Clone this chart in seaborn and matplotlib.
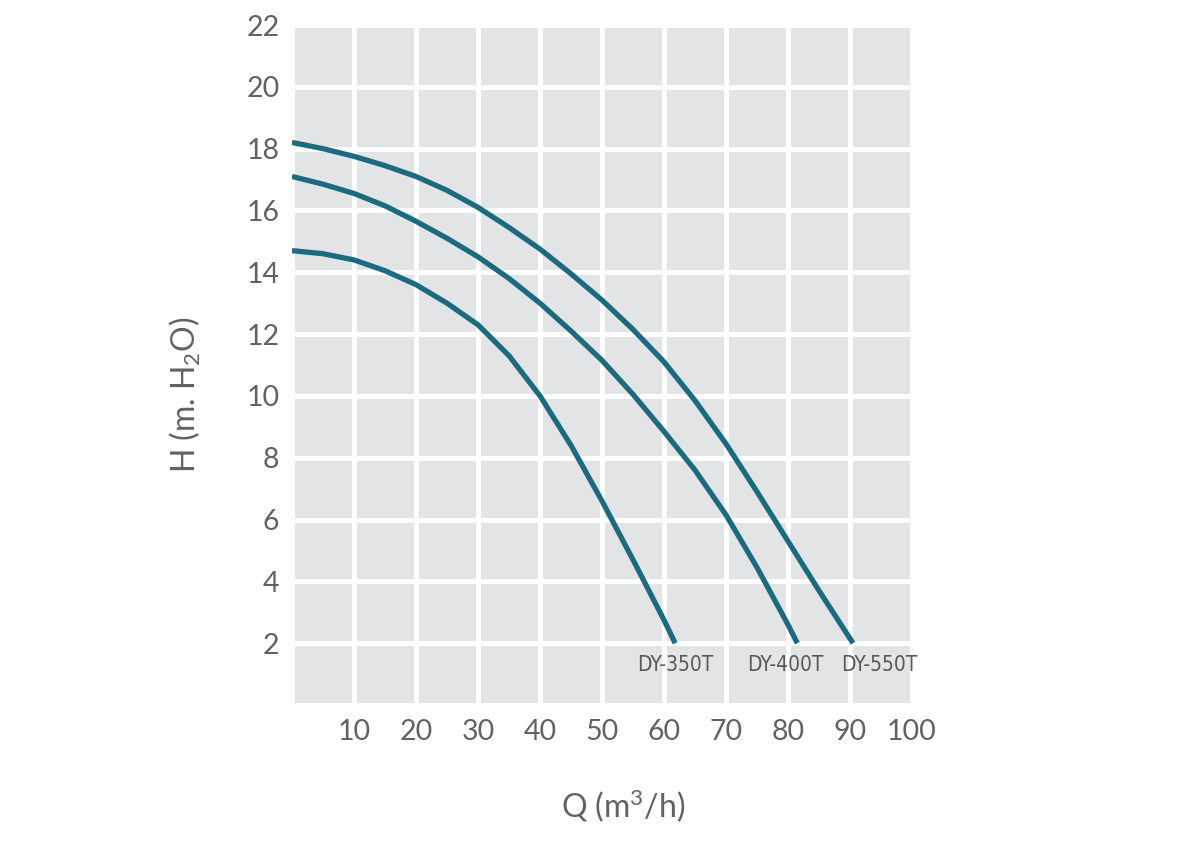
import matplotlib
matplotlib.use("Agg")
import matplotlib.pyplot as plt
import seaborn as sns
import pandas as pd

# ---- data ----
q_550 = [0, 5, 10, 15, 20, 25, 30, 35, 40, 45, 50, 55, 60, 65, 70, 75, 80, 85, 90, 90.5]
h_550 = [18.2, 18.0, 17.75, 17.45, 17.1, 16.65, 16.1, 15.45, 14.75, 13.95, 13.1, 12.15, 11.1, 9.85, 8.45, 6.9, 5.3, 3.7, 2.15, 2.0]

q_400 = [0, 5, 10, 15, 20, 25, 30, 35, 40, 45, 50, 55, 60, 65, 70, 75, 80, 81.5]
h_400 = [17.1, 16.85, 16.55, 16.15, 15.65, 15.1, 14.5, 13.8, 13.0, 12.1, 11.15, 10.05, 8.85, 7.6, 6.15, 4.45, 2.6, 2.0]

q_350 = [0, 5, 10, 15, 20, 25, 30, 35, 40, 45, 50, 55, 60, 61.8]
h_350 = [14.7, 14.6, 14.4, 14.05, 13.6, 13.0, 12.3, 11.3, 10.0, 8.4, 6.6, 4.7, 2.75, 2.0]

models = ["DY-350T", "DY-400T", "DY-550T"]
label_x = [61.9, 79.5, 94.8]
label_y = [1.3, 1.3, 1.3]

x_ticks = [0, 10, 20, 30, 40, 50, 60, 70, 80, 90, 100]
x_tick_labels = ["", "10", "20", "30", "40", "50", "60", "70", "80", "90", "100"]
y_ticks = [0, 2, 4, 6, 8, 10, 12, 14, 16, 18, 20, 22]
y_tick_labels = ["", "2", "4", "6", "8", "10", "12", "14", "16", "18", "20", "22"]

df = pd.concat([
    pd.DataFrame({"Q": q_350, "H": h_350, "model": "DY-350T"}),
    pd.DataFrame({"Q": q_400, "H": h_400, "model": "DY-400T"}),
    pd.DataFrame({"Q": q_550, "H": h_550, "model": "DY-550T"}),
], ignore_index=True)

# ---- style ----
sns.set_theme(style="white")
plt.rcParams["font.family"] = ["Lato", "DejaVu Sans"]
plt.rcParams["mathtext.fontset"] = "custom"
plt.rcParams["mathtext.rm"] = "Lato"
plt.rcParams["mathtext.it"] = "Lato"

line_color = "#1b6a80"
text_gray = "#626262"
panel_gray = "#e3e4e6"

fig = plt.figure(figsize=(11.84, 8.55), dpi=100)
ax = fig.add_axes([292 / 1184, 1 - 705 / 855, 620 / 1184, 680 / 855])
ax.set_facecolor(panel_gray)

sns.lineplot(data=df, x="Q", y="H", hue="model", units="model", estimator=None,
             sort=False, palette={m: line_color for m in models}, legend=False,
             linewidth=3.8, ax=ax, solid_capstyle="butt", solid_joinstyle="round",
             zorder=3)

ax.set_xlim(0, 100)
ax.set_ylim(0, 22)
ax.set_xticks(x_ticks)
ax.set_xticklabels(x_tick_labels)
ax.set_yticks(y_ticks)
ax.set_yticklabels(y_tick_labels)
ax.grid(True, color="white", linewidth=3.6, zorder=1)
ax.set_axisbelow(True)
for s in ax.spines.values():
    s.set_visible(False)
ax.tick_params(axis="both", length=0, labelsize=20.5, labelcolor=text_gray)
ax.tick_params(axis="x", pad=10)
ax.tick_params(axis="y", pad=9)

ax.set_xlabel("Q (m$^3$/h)", fontsize=23, color=text_gray)
ax.set_ylabel("H (m. H$_2$O)", fontsize=23, color=text_gray)
ax.xaxis.set_label_coords((623 - 292) / 620, (705 - 788) / 680)
ax.yaxis.set_label_coords((203 - 292) / 620, (705 - 395) / 680)

for m, lx, ly in zip(models, label_x, label_y):
    ax.text(lx, ly, m, ha="center", va="center", fontsize=15, color="#585858",
            family="DejaVu Sans", fontstretch="condensed", zorder=4)

fig.savefig("out.png", dpi=100, facecolor="white")
